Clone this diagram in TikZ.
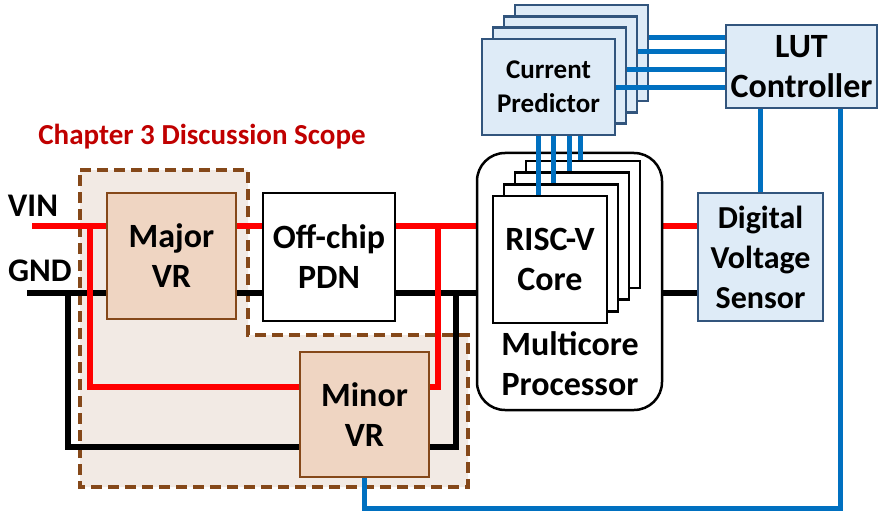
\documentclass[tikz,border=0pt]{standalone}
\usepackage{fontspec}
\setmainfont{Carlito}
\usepackage{xcolor}
\usepackage{tikz}
\usetikzlibrary{positioning, backgrounds}
\definecolor{scopered}{RGB}{192,0,0}
\definecolor{vrbrown}{RGB}{133,72,25}
\definecolor{vrpeach}{RGB}{239,213,194}
\definecolor{scopebg}{RGB}{242,234,228}
\definecolor{ctlblue}{RGB}{0,112,192}
\definecolor{ctlfill}{RGB}{222,235,247}
\definecolor{ctledge}{RGB}{50,85,125}

\tikzset{
  blk/.style={draw, line width=2.5pt, align=center, inner sep=0pt},
  vrblk/.style={blk, draw=vrbrown, fill=vrpeach},
  whiteblk/.style={blk, draw=black, fill=white},
  ctlblk/.style={blk, draw=ctledge, fill=ctlfill},
  vinw/.style={line width=6pt, red},
  gndw/.style={line width=6pt, black},
  ctlw/.style={line width=5pt, ctlblue}
}

\begin{document}
\begin{tikzpicture}[x=1pt, y=-1pt, font=\bfseries\fontsize{34}{40}\selectfont]
  \useasboundingbox (0,0) rectangle (878,516);

  % power path blocks
  \node[vrblk, minimum width=129, minimum height=126] (major) at (171.5,256) {Major\\VR};
  \node[whiteblk, minimum width=132, minimum height=128] (pdn) at (329,257) {Off-chip\\PDN};
  \node[vrblk, minimum width=129, minimum height=125] (minor) at (364.5,414.5) {Minor\\VR};

  % multicore processor with stacked cores
  \node[whiteblk, rounded corners=28pt, minimum width=185, minimum height=257] (mc) at (569.5,281.5) {};
  \foreach \k in {4,3,2}
    \node[whiteblk, minimum width=114, minimum height=127] (core\k) at ({550+11*(\k-1)},{259.5-11.7*(\k-1)}) {};
  \node[whiteblk, minimum width=114, minimum height=127] (core1) at (550,259.5) {RISC-V\\Core};
  \node[align=center] (mclabel) at (570,364) {Multicore\\Processor};

  % stacked current predictors
  \foreach \k in {4,3,2}
    \node[ctlblk, minimum width=133, minimum height=96] (pred\k) at ({548.5+11*(\k-1)},{87-11.3*(\k-1)}) {};
  \node[ctlblk, minimum width=133, minimum height=96, font=\bfseries\fontsize{27}{34}\selectfont] (pred1) at (548.5,87) {Current\\Predictor};

  \node[ctlblk, minimum width=151, minimum height=83] (lut) at (801.5,66.5) {LUT\\Controller};
  \node[ctlblk, minimum width=125, minimum height=128, font=\bfseries\fontsize{32}{40}\selectfont] (dvs) at (760.5,257) {Digital\\Voltage\\Sensor};

  % labels
  \node[font=\bfseries\fontsize{33}{38}\selectfont] (vinlbl) at (33,206) {VIN};
  \node[font=\bfseries\fontsize{33}{38}\selectfont] (gndlbl) at (40,271) {GND};
  \node[anchor=base, text=scopered, font=\bfseries\fontsize{29}{34}\selectfont] (scopelbl) at (202,145) {Chapter 3 Discussion Scope};

  \begin{scope}[on background layer]
    % discussion scope region
    \draw[fill=scopebg, draw=vrbrown, line width=3.5pt, dash pattern=on 11pt off 6pt]
      (80,170) -- (248,170) -- (248,335) -- (468,335) -- (468,487) -- (80,487) -- cycle;

    \coordinate (vin) at (32,226);
    \coordinate (gnd) at (27,293);
    \coordinate (vlow) at (90,387);
    \coordinate (glow) at (68,447);
    \coordinate (vtap) at (438,226);
    \coordinate (gtap) at (456,293);
    \coordinate (fbcorner) at (840,508);

    % ground rail
    \draw[gndw] (gnd) -- (gnd -| major.west);
    \draw[gndw] (gnd -| major.east) -- (gnd -| pdn.west);
    \draw[gndw] (gnd -| pdn.east) -- (gnd -| mc.west);
    \draw[gndw] (gnd -| mc.east) -- (gnd -| dvs.west);
    \draw[gndw] (gnd -| glow) -- (glow) -- (minor.west |- glow);
    \draw[gndw] (gtap) |- (minor.east |- glow);

    % supply rail
    \draw[vinw] (vin) -- (vin -| major.west);
    \draw[vinw] (vin -| major.east) -- (vin -| pdn.west);
    \draw[vinw] (vin -| pdn.east) -- (vin -| mc.west);
    \draw[vinw] (vin -| mc.east) -- (vin -| dvs.west);
    \draw[vinw] (vin -| vlow) -- (vlow) -- (minor.west |- vlow);
    \draw[vinw] (vtap) |- (minor.east |- vlow);

    % control feedback
    \draw[ctlw] (dvs.north) -- (dvs.north |- lut.south);
    \draw[ctlw] (lut.south -| fbcorner) -- (fbcorner) -| (minor.south);
  \end{scope}

  % predictor links
  \foreach \k/\yy in {1/88, 2/70, 3/52, 4/38}
    \draw[ctlw] (pred\k.east |- 0,\yy) -- (lut.west |- 0,\yy);
  \foreach \k/\xx in {1/538, 2/553, 3/569, 4/580}
    \draw[ctlw] (pred1.south -| \xx,0) -- (core\k.north -| \xx,0);
\end{tikzpicture}
\end{document}
